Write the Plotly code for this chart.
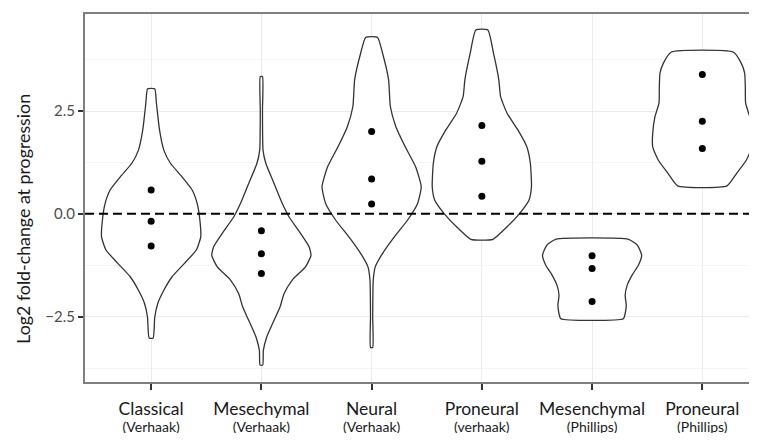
import plotly.graph_objects as go

# ---- data ----
groups = ["Classical", "Mesechymal", "Neural", "Proneural", "Mesenchymal", "Proneural"]
sources = ["(Verhaak)", "(Verhaak)", "(Verhaak)", "(verhaak)", "(Phillips)", "(Phillips)"]

# violin density profiles: y level and half-width (scaled so widest = 0.45)
classical_y = [-3.02, -2.51, -2.18, -1.86, -1.53, -1.21, -0.88, -0.56, -0.15, 0.25, 0.58, 0.90, 1.23, 1.55, 2.04, 2.69, 3.04]
classical_w = [0.018, 0.033, 0.06, 0.115, 0.19, 0.30, 0.41, 0.45, 0.442, 0.418, 0.372, 0.28, 0.175, 0.115, 0.076, 0.048, 0.032]

mesechymal_y = [-3.68, -3.32, -3.0, -2.59, -2.26, -1.94, -1.61, -1.29, -1.01, -0.80, -0.48, -0.07, 0.25, 0.74, 1.23, 1.55, 2.5, 3.34]
mesechymal_w = [0.012, 0.018, 0.048, 0.115, 0.17, 0.206, 0.28, 0.40, 0.45, 0.433, 0.357, 0.25, 0.19, 0.115, 0.04, 0.015, 0.01, 0.01]

neural_y = [-3.25, -2.5, -1.61, -1.29, -0.96, -0.56, -0.15, 0.25, 0.66, 1.14, 1.63, 2.12, 2.61, 3.26, 3.90, 4.29]
neural_w = [0.01, 0.01, 0.015, 0.033, 0.10, 0.206, 0.327, 0.417, 0.45, 0.40, 0.305, 0.22, 0.17, 0.154, 0.10, 0.054]

proneural_v_y = [-0.62, -0.32, 0.0, 0.33, 0.66, 1.23, 1.63, 2.04, 2.44, 2.85, 3.26, 3.90, 4.47]
proneural_v_w = [0.10, 0.227, 0.34, 0.427, 0.45, 0.44, 0.408, 0.327, 0.23, 0.17, 0.154, 0.106, 0.054]

mesenchymal_p_y = [-2.55, -2.43, -2.22, -1.98, -1.74, -1.49, -1.25, -1.01, -0.76, -0.62]
mesenchymal_p_w = [0.284, 0.30, 0.31, 0.30, 0.318, 0.363, 0.42, 0.45, 0.41, 0.33]

proneural_p_y = [0.68, 0.98, 1.31, 1.63, 1.96, 2.36, 2.69, 3.09, 3.42, 3.66, 3.93]
proneural_p_w = [0.224, 0.31, 0.40, 0.45, 0.45, 0.43, 0.393, 0.39, 0.384, 0.354, 0.283]

# quartile points
classical_q = [0.58, -0.18, -0.78]
mesechymal_q = [-0.41, -0.97, -1.45]
neural_q = [2.0, 0.85, 0.24]
proneural_v_q = [2.15, 1.28, 0.43]
mesenchymal_p_q = [-1.02, -1.33, -2.13]
proneural_p_q = [3.39, 2.25, 1.59]

y_ticks = [-2.5, 0.0, 2.5]
y_tick_text = ["\u22122.5", "0.0", "2.5"]
y_title = "Log2 fold-change at progression"

profiles = [
    (classical_y, classical_w, classical_q),
    (mesechymal_y, mesechymal_w, mesechymal_q),
    (neural_y, neural_w, neural_q),
    (proneural_v_y, proneural_v_w, proneural_v_q),
    (mesenchymal_p_y, mesenchymal_p_w, mesenchymal_p_q),
    (proneural_p_y, proneural_p_w, proneural_p_q),
]

fig = go.Figure()

for i, (ys, ws, qs) in enumerate(profiles):
    c = i + 1
    xs = [c - w for w in ws] + [c + w for w in reversed(ws)] + [c - ws[0]]
    yy = list(ys) + list(reversed(ys)) + [ys[0]]
    fig.add_trace(go.Scatter(
        x=xs, y=yy, mode="lines", fill="toself", fillcolor="white",
        line=dict(color="#333333", width=1.3, shape="spline", smoothing=0.5),
        hoverinfo="skip", showlegend=False,
    ))
    fig.add_trace(go.Scatter(
        x=[c] * len(qs), y=qs, mode="markers",
        marker=dict(color="black", size=7),
        showlegend=False,
    ))

fig.add_shape(type="line", xref="paper", x0=0, x1=1, yref="y", y0=0, y1=0,
              line=dict(color="black", width=2, dash="9px,5px"), layer="above")

fig.add_annotation(text=y_title, textangle=-90, xref="paper", x=-0.0934, xanchor="center",
                   yref="y", y=-0.12, yanchor="middle", showarrow=False,
                   font=dict(size=17.8, color="#1a1a1a", family="Lato"))

tick_text = [f"<span style='font-size:17.5px'>{g}</span><br><span style='font-size:14px'>{s}</span>"
             for g, s in zip(groups, sources)]

fig.update_layout(
    width=741, height=425,
    margin=dict(l=77, r=0, t=6, b=51),
    plot_bgcolor="white", paper_bgcolor="white",
    font=dict(family="Lato", color="#1a1a1a"),
    xaxis=dict(
        range=[0.4, 6.4235], tickvals=[1, 2, 3, 4, 5, 6], ticktext=tick_text,
        showgrid=True, gridcolor="#ebebeb", gridwidth=1,
        showline=True, linecolor="#7f7f7f", linewidth=2, mirror=True,
        ticks="outside", ticklen=6, tickwidth=1.5, tickcolor="#333333",
        tickfont=dict(size=13, color="#1a1a1a", family="Lato"),
        ticklabelstandoff=9,
        zeroline=False, automargin=False,
    ),
    yaxis=dict(
        range=[-4.09, 4.86], tickvals=y_ticks, ticktext=y_tick_text,
        showgrid=True, gridcolor="#ebebeb", gridwidth=1,
        minor=dict(tickvals=[-3.75, -1.25, 1.25, 3.75], showgrid=True, gridcolor="#f5f5f5", gridwidth=0.8, ticks=""),
        showline=True, linecolor="#7f7f7f", linewidth=2, mirror=False,
        ticks="outside", ticklen=5, tickwidth=1.5, tickcolor="#333333",
        tickfont=dict(size=15, color="#4d4d4d", family="Lato"),
        zeroline=False, automargin=False,
    ),
)

fig.write_html("out.html")
